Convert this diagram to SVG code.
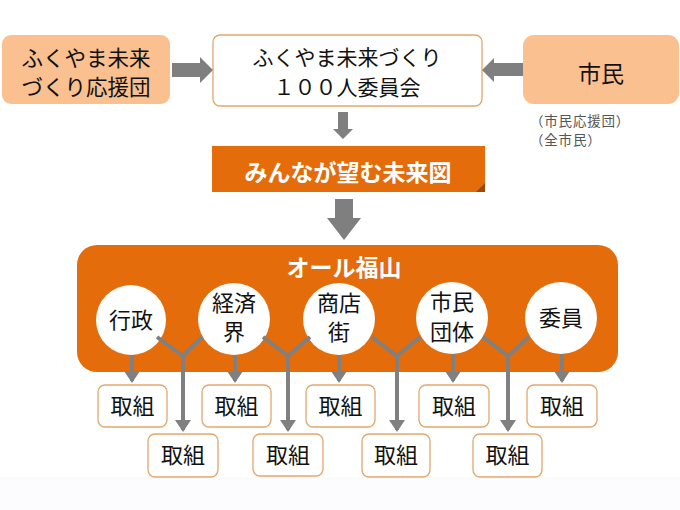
<svg xmlns="http://www.w3.org/2000/svg" width="680" height="510" viewBox="0 0 680 510">
<style>
text{font-family:"Noto Sans CJK JP","Noto Sans",sans-serif;fill:#111;text-anchor:middle}
.big{font-size:21px}
.node{font-size:22px}
.peach{fill:#FAC090}
.wbox{fill:#fff;stroke:#E3A66A;stroke-width:1.3}
.circ{fill:#fff}
.arr{fill:#7F7F7F}
.con{stroke:#808080;stroke-width:4;fill:none}
.wt{fill:#fff;font-weight:bold}
.note{font-size:13.5px;fill:#555;text-anchor:start;letter-spacing:0.8px}
</style>
<defs>
<marker id="ah" markerWidth="4" markerHeight="4" refX="2.5" refY="2" orient="auto" markerUnits="strokeWidth">
<path d="M0,0 L3,2 L0,4 Z" fill="#808080"/>
</marker>
</defs>
<rect x="0" y="0" width="680" height="510" fill="#fff"/>
<rect x="0" y="477" width="680" height="33" fill="#FCFCFE"/>

<g id="supporters">
<rect class="peach" x="2" y="35" width="168" height="69" rx="9"/>
<text class="big" x="86" y="66" style="font-size:21.5px">ふくやま未来</text>
<text class="big" x="86" y="95" style="font-size:21.5px">づくり応援団</text>
</g>
<g id="committee">
<rect class="wbox" x="213" y="35" width="269" height="71" rx="7"/>
<text class="big" x="347" y="65">ふくやま未来づくり</text>
<text class="big" x="347" y="95">１００人委員会</text>
</g>
<g id="citizens">
<rect class="peach" x="523" y="35" width="156" height="69" rx="11"/>
<text class="big" x="601" y="82" style="font-size:23px">市民</text>
<text class="note" x="530" y="126">（市民応援団）</text>
<text class="note" x="530" y="145">（全市民）</text>
</g>
<g id="vision">
<rect x="212" y="146" width="273" height="46" fill="#E46C0A"/>
<polygon points="476,192 485,183 485,192" fill="#9A4A08"/>
<text class="wt" x="348" y="181" style="font-size:23px">みんなが望む未来図</text>
</g>
<g id="allfukuyama">
<rect x="77" y="245" width="541" height="127" rx="20" fill="#E46C0A"/>
<text class="wt" x="344" y="276" style="font-size:23px">オール福山</text>
</g>
<g id="gyosei"><circle class="circ" cx="131" cy="320" r="35"/><text class="node" x="131" y="328">行政</text></g>
<g id="keizaikai"><circle class="circ" cx="234" cy="319" r="36"/><text class="node" x="234" y="311">経済</text><text class="node" x="234" y="340">界</text></g>
<g id="shotengai"><circle class="circ" cx="339" cy="319" r="36"/><text class="node" x="339" y="311">商店</text><text class="node" x="339" y="340">街</text></g>
<g id="shimindantai"><circle class="circ" cx="452" cy="318" r="36"/><text class="node" x="452" y="310">市民</text><text class="node" x="452" y="340">団体</text></g>
<g id="iin"><circle class="circ" cx="561" cy="318" r="36"/><text class="node" x="561" y="326">委員</text></g>

<g id="connectors">
<polygon class="arr" points="172,63 200,63 200,57 213,70 200,83 200,77 172,77"/>
<polygon class="arr" points="523,63 494,63 494,58 482,70 494,82 494,76 523,76"/>
<polygon class="arr" points="338,112 348,112 348,129 353,129 343,139 333,129 338,129"/>
<polygon class="arr" points="335,199 353,199 353,218 361,218 344,240 327,218 335,218"/>
<polyline class="con" points="157,337 183,356 202,337"/>
<polyline class="con" points="263,337 288,356 310,337"/>
<polyline class="con" points="372,337 397,356 420,337"/>
<polyline class="con" points="483,337 508,356 529,337"/>
<line class="con" x1="132" y1="355" x2="132" y2="381" marker-end="url(#ah)"/>
<line class="con" x1="235" y1="355" x2="235" y2="381" marker-end="url(#ah)"/>
<line class="con" x1="339" y1="355" x2="339" y2="381" marker-end="url(#ah)"/>
<line class="con" x1="453" y1="354" x2="453" y2="381" marker-end="url(#ah)"/>
<line class="con" x1="562" y1="354" x2="562" y2="381" marker-end="url(#ah)"/>
<line class="con" x1="183" y1="355" x2="183" y2="430" marker-end="url(#ah)"/>
<line class="con" x1="288" y1="355" x2="288" y2="430" marker-end="url(#ah)"/>
<line class="con" x1="397" y1="355" x2="397" y2="430" marker-end="url(#ah)"/>
<line class="con" x1="508" y1="355" x2="508" y2="430" marker-end="url(#ah)"/>
</g>

<g id="t1"><rect class="wbox" x="98" y="385" width="69" height="42" rx="7"/><text class="node" x="132.5" y="414">取組</text></g>
<g id="t2"><rect class="wbox" x="202" y="385" width="69" height="42" rx="7"/><text class="node" x="236.5" y="414">取組</text></g>
<g id="t3"><rect class="wbox" x="306" y="385" width="69" height="42" rx="7"/><text class="node" x="340.5" y="414">取組</text></g>
<g id="t4"><rect class="wbox" x="419" y="385" width="70" height="42" rx="7"/><text class="node" x="454" y="414">取組</text></g>
<g id="t5"><rect class="wbox" x="527" y="385" width="70" height="42" rx="7"/><text class="node" x="562" y="414">取組</text></g>
<g id="t6"><rect class="wbox" x="148" y="434" width="70" height="43" rx="7"/><text class="node" x="183" y="463">取組</text></g>
<g id="t7"><rect class="wbox" x="253" y="434" width="70" height="42" rx="7"/><text class="node" x="288" y="463">取組</text></g>
<g id="t8"><rect class="wbox" x="362" y="434" width="68" height="43" rx="7"/><text class="node" x="396" y="463">取組</text></g>
<g id="t9"><rect class="wbox" x="473" y="434" width="69" height="43" rx="7"/><text class="node" x="507.5" y="463">取組</text></g>
</svg>
